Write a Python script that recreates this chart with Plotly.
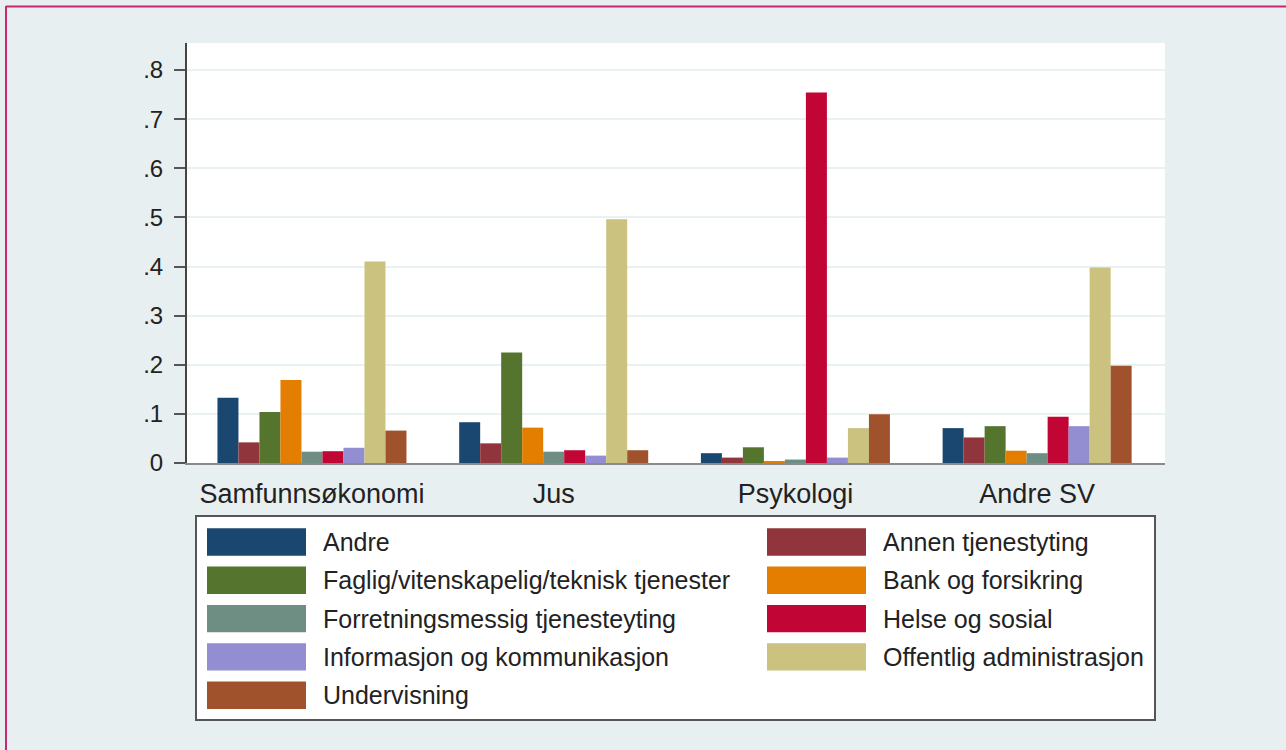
import plotly.graph_objects as go

categories = ["Samfunnsøkonomi", "Jus", "Psykologi", "Andre SV"]

series_names = [
    "Andre",
    "Annen tjenestyting",
    "Faglig/vitenskapelig/teknisk tjenester",
    "Bank og forsikring",
    "Forretningsmessig tjenesteyting",
    "Helse og sosial",
    "Informasjon og kommunikasjon",
    "Offentlig administrasjon",
    "Undervisning",
]

andre = [0.133, 0.083, 0.020, 0.071]
annen_tjenestyting = [0.042, 0.040, 0.011, 0.052]
faglig = [0.104, 0.225, 0.032, 0.075]
bank = [0.169, 0.072, 0.004, 0.025]
forretning = [0.023, 0.023, 0.007, 0.020]
helse = [0.024, 0.026, 0.754, 0.094]
informasjon = [0.031, 0.015, 0.011, 0.075]
offentlig = [0.410, 0.496, 0.071, 0.398]
undervisning = [0.066, 0.026, 0.099, 0.198]

series_values = [andre, annen_tjenestyting, faglig, bank, forretning,
                 helse, informasjon, offentlig, undervisning]

colors = ["#1a476f", "#90353b", "#55752f", "#e37e00", "#6e8e84",
          "#c10534", "#938dd2", "#cac27e", "#a0522d"]

y_tickvals = [0, 0.1, 0.2, 0.3, 0.4, 0.5, 0.6, 0.7, 0.8]
y_ticktext = ["0", ".1", ".2", ".3", ".4", ".5", ".6", ".7", ".8"]

W, H = 1286, 750
L, R, T, B = 187, 1165, 43, 463
FONT = "Liberation Sans, Arial, sans-serif"

fig = go.Figure()
for name, vals, col in zip(series_names, series_values, colors):
    fig.add_trace(go.Bar(x=categories, y=vals, name=name,
                         marker=dict(color=col, line=dict(width=0)),
                         showlegend=False))


def px(x):
    return (x - L) / (R - L)


def py(y):
    return (B - y) / (B - T)


shapes = []
annotations = []
# legend box
shapes.append(dict(type="rect", xref="paper", yref="paper",
                   x0=px(196), x1=px(1155), y0=py(516), y1=py(720),
                   fillcolor="white", line=dict(color="#555555", width=2), layer="below"))
col_x = [207, 767]
text_x = [321, 881]
row0, pitch = 542, 38.3
for i, (name, col) in enumerate(zip(series_names, colors)):
    r, c = divmod(i, 2)
    cy = row0 + r * pitch
    shapes.append(dict(type="rect", xref="paper", yref="paper",
                       x0=px(col_x[c]), x1=px(col_x[c] + 99),
                       y0=py(cy - 13.7), y1=py(cy + 13.7),
                       fillcolor=col, line=dict(width=0), layer="above"))
    annotations.append(dict(xref="paper", yref="paper", x=px(text_x[c]), y=py(cy),
                            text=name, showarrow=False, xanchor="left", yanchor="middle",
                            font=dict(family=FONT, size=25, color="#222222")))

# outer magenta frame (top and left)
shapes.append(dict(type="line", xref="paper", yref="paper",
                   x0=px(6), x1=px(1290), y0=py(6.5), y1=py(6.5),
                   line=dict(color="#c8286e", width=2)))
shapes.append(dict(type="line", xref="paper", yref="paper",
                   x0=px(6), x1=px(6), y0=py(6), y1=py(760),
                   line=dict(color="#c8286e", width=2)))

fig.update_layout(
    width=W, height=H,
    margin=dict(l=L, r=W - R, t=T, b=H - B, pad=0),
    paper_bgcolor="#e8eff1",
    plot_bgcolor="white",
    barmode="group",
    bargap=0.218,
    bargroupgap=0,
    shapes=shapes,
    annotations=annotations,
    font=dict(family=FONT, color="#222222"),
    xaxis=dict(
        type="category",
        range=[-0.517, 3.529],
        showgrid=False,
        showline=True, linecolor="#8a8a8a", linewidth=2,
        ticks="", tickfont=dict(size=27, family=FONT, color="#222222"),
        ticklabelstandoff=6,
        zeroline=False,
    ),
    yaxis=dict(
        range=[0, 0.855],
        tickvals=y_tickvals, ticktext=y_ticktext,
        showgrid=True, gridcolor="#e9f1f3", gridwidth=2,
        showline=True, linecolor="#444444", linewidth=2,
        ticks="outside", ticklen=11, tickwidth=2, tickcolor="#555555",
        tickfont=dict(size=24, family=FONT, color="#222222"),
        ticklabelstandoff=6,
        zeroline=False,
    ),
)

fig.write_html("out.html",
               config={"displayModeBar": False},
               post_script="document.body.style.margin='0';document.body.style.overflow='hidden';")
